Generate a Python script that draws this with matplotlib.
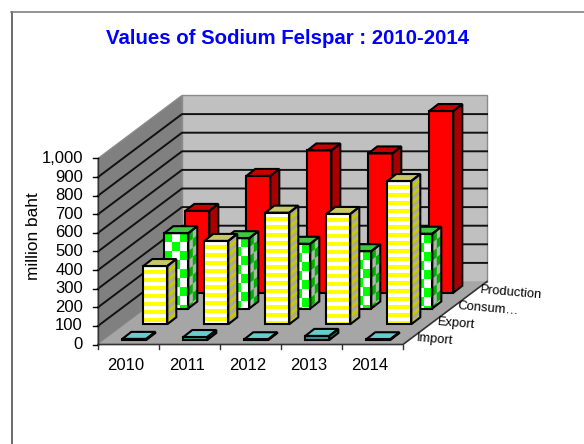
#!/usr/bin/env python3
"""Sodium felspar values as a pseudo 3D column chart."""
import matplotlib
matplotlib.use('Agg')
import matplotlib.pyplot as plt
from matplotlib.patches import Polygon

plt.rcParams['font.family'] = ['Liberation Sans', 'DejaVu Sans']

years = ['2010', '2011', '2012', '2013', '2014']
series = ['Import', 'Export', 'Consum…', 'Production']
value_ticks = [0, 100, 200, 300, 400, 500, 600, 700, 800, 900, 1000]

import_vals = [6, 16, 4, 22, 4]
export_vals = [313, 448, 600, 593, 770]
consumption_vals = [405, 378, 348, 308, 402]
production_vals = [440, 628, 765, 749, 977]
all_vals = [import_vals, export_vals, consumption_vals, production_vals]

W, H = 584, 444
fig = plt.figure(figsize=(W / 100, H / 100), dpi=100)
# pixel box for the front plane: x = 0..5 categories, y = 0..1000
X0, X1, Y0, Y1 = 98, 403, 344.5, 158.5
ax = fig.add_axes([X0 / W, 1 - Y0 / H, (X1 - X0) / W, (Y0 - Y1) / H])
ax.set_xlim(0, 5)
ax.set_ylim(0, 1000)
ax.axis('off')

# chart depth, in data units (84 px right, 63 px up)
PX_X = 1 / 61.0
PX_Y = 1 / 0.186
DX = 84 * PX_X
DY = 63 * PX_Y
SX = DX / 4
SY = DY / 4
BAR_W = 24 * PX_X
BAR_DX = 9 * PX_X
BAR_DY = 7 * PX_Y
GAP_X = 24.3 * PX_X
GAP_Y = 4.5 * PX_Y
CELL = 8 * PX_Y


def poly(pts, fc, ec='none', lw=0, z=1):
    ax.add_patch(Polygon(pts, closed=True, facecolor=fc, edgecolor=ec,
                         linewidth=lw, zorder=z, clip_on=False))


def sheared(o, u, v, u0=0, u1=1, v0=0, v1=1):
    return [(o[0] + u[0]*a + v[0]*b, o[1] + u[1]*a + v[1]*b)
            for a, b in [(u0, v0), (u1, v0), (u1, v1), (u0, v1)]]


def stripes(o, u, v, c1, c2, z):
    """Fill a face with horizontal bands counted from the top of the bar."""
    poly(sheared(o, u, v), c2, z=z)
    step = CELL / v[1]
    b = 1 - step / 2
    while b > 0:
        poly(sheared(o, u, v, v0=max(b - step / 2, 0), v1=b), c1, z=z)
        b -= step


def checks(o, u, v, c1, c2, z, cols):
    poly(sheared(o, u, v), c2, z=z)
    step = 9 * PX_Y / v[1]
    j = 0
    while j * step < 1:
        top = 1 - j * step
        for i in range(cols):
            if (i + j) % 2 == 0:
                poly(sheared(o, u, v, i / cols, (i + 1) / cols,
                             max(top - step, 0), top), c1, z=z)
        j += 1


def draw_bar(i, s, val):
    x = GAP_X + i + s * SX
    y = GAP_Y + s * SY
    z = 10 + (3 - s) * 10 + i * 0.1
    o = (x, y)
    u = (BAR_W, 0)
    v = (0, val)
    so = (x + BAR_W, y)
    su = (BAR_DX, BAR_DY)
    to = (x, y + val)
    if s == 0:
        poly(sheared(o, u, v), '#339999', z=z)
        poly(sheared(so, su, v), '#226666', z=z)
        top = '#66cccc'
    elif s == 1:
        stripes(o, u, v, '#ffff00', 'white', z)
        stripes(so, su, v, '#c8c800', '#a8a8a0', z)
        top = '#c8c864'
    elif s == 2:
        checks(o, u, v, '#00ff00', 'white', z, 3)
        checks(so, su, v, '#00b000', '#a8b8a8', z, 2)
        top = '#40c840'
    else:
        poly(sheared(o, u, v), '#ff0000', z=z)
        poly(sheared(so, su, v), '#a80000', z=z)
        top = '#c80000'
    poly(sheared(to, u, su), top, z=z)
    for pts in (sheared(o, u, v), sheared(so, su, v), sheared(to, u, su)):
        poly(pts, 'none', ec='black', lw=1.5, z=z + 0.01)


# walls and floor
poly([(0, 0), (DX, DY), (DX, DY + 1000), (0, 1000)], '#808080', ec='#8a8a8a', lw=1)
poly([(DX, DY), (5 + DX, DY), (5 + DX, DY + 1000), (DX, DY + 1000)], '#c0c0c0',
     ec='#8a8a8a', lw=1)
poly([(0, 0), (5, 0), (5 + DX, DY), (DX, DY)], '#a6a6a6')

# gridlines on both walls
for t in value_ticks[1:-1]:
    ax.plot([0, DX, 5 + DX], [t, t + DY, t + DY], color='#111111', lw=1.4, zorder=2,
            clip_on=False)
ax.plot([0, 5, 5 + DX], [0, 0, DY], color='#333333', lw=1.2, zorder=3, clip_on=False)
ax.plot([0, 0], [0, 1000], color='#333333', lw=1.0, zorder=3, clip_on=False)

# value axis ticks and labels
for t in value_ticks:
    ax.plot([-5 * PX_X, 0], [t, t], color='black', lw=1, zorder=3, clip_on=False)
    ax.text(-15 * PX_X, t, f'{t:,}', ha='right', va='center', fontsize=12, color='black')
# year axis
for i in range(6):
    ax.plot([i, i], [0, -4 * PX_Y], color='#333333', lw=1, zorder=3, clip_on=False)
for i, lab in enumerate(years):
    ax.text(i + 0.46, -20.5 * PX_Y, lab, ha='center', va='center', fontsize=12, color='black')

# series labels along the depth axis
label_x = [5.22, 5.57, 5.9, 6.26]
label_y = [35, 121, 207, 293]
for name, lx, ly in zip(series, label_x, label_y):
    ax.text(lx, ly, name, fontsize=9.4, rotation=-5, ha='left', va='center',
            rotation_mode='anchor', color='black')

# columns, back row first through zorder
for s, vals in enumerate(all_vals):
    for i, val in enumerate(vals):
        draw_bar(i, s, val)

fig.text(288 / W, 1 - 38 / H, 'Values of Sodium Felspar : 2010-2014', ha='center',
         va='center', fontsize=14.7, fontweight='bold', color='#0000ff')
fig.text(33 / W, 1 - 236 / H, 'million baht', rotation=90, ha='center', va='center',
         fontsize=12.4, color='black')

# outer frame lines
fig.add_artist(plt.Line2D([11.5 / W, 11.5 / W], [1 - 12 / H, 0], color='#444444', lw=1.1))
fig.add_artist(plt.Line2D([11 / W, 1], [1 - 12.5 / H, 1 - 12.5 / H], color='#777777', lw=1.1))

plt.savefig('out.png', dpi=100, facecolor='white')
plt.close()
